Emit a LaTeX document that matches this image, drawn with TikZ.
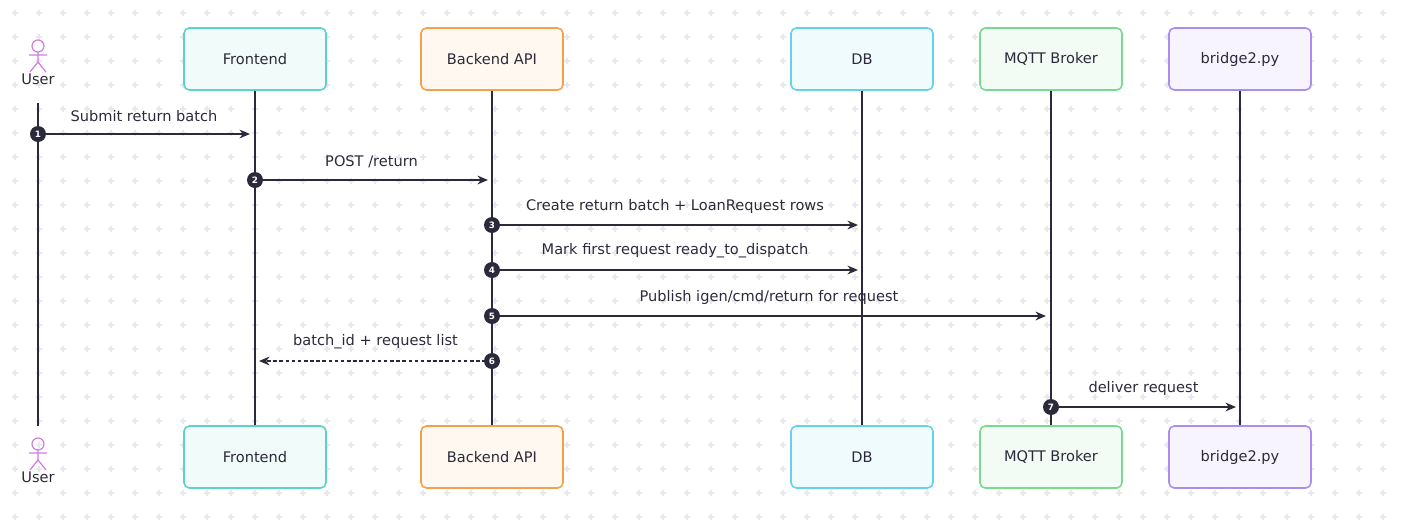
\documentclass[tikz,border=0pt]{standalone}
\usepackage{fontspec}
\setmainfont{DejaVu Sans}
\usetikzlibrary{arrows.meta}
\definecolor{ink}{HTML}{2B2A3A}
\definecolor{grid}{HTML}{E8E8EC}
\definecolor{feB}{HTML}{5CD3C8}\definecolor{feF}{HTML}{F1FBFA}
\definecolor{beB}{HTML}{F6A04D}\definecolor{beF}{HTML}{FFF8F1}
\definecolor{dbB}{HTML}{66D2EA}\definecolor{dbF}{HTML}{F0FBFE}
\definecolor{mqB}{HTML}{78DB8F}\definecolor{mqF}{HTML}{F2FCF4}
\definecolor{brB}{HTML}{A88EF0}\definecolor{brF}{HTML}{F7F4FF}
\definecolor{actor}{HTML}{D27CE4}
\tikzset{
  part/.style={draw=#1B, fill=#1F, line width=0.9pt, rounded corners=3pt,
    minimum width=2.84cm, minimum height=1.24cm, font=\fontsize{8.3}{10}\selectfont, text=ink},
  life/.style={ink, line width=0.9pt},
  msg/.style={ink, line width=0.9pt, -{Stealth[length=6pt,width=5pt]}},
  reply/.style={msg, dash pattern=on 2pt off 1.5pt},
  num/.style={circle, fill=ink, text=white, inner sep=0pt, minimum size=0.32cm,
    font=\fontsize{5}{6}\selectfont\bfseries},
  lbl/.style={font=\fontsize{8.3}{10}\selectfont, text=ink},
}
\newcommand{\actorfig}[2]{%
  \begin{scope}[shift={(#1,#2)}, actor, line width=0.7pt]
    \draw (0,-9) circle (6);
    \draw (0,-3) -- (0,7) (-9,0) -- (9,0)
          (-8,17) -- (0,7) -- (8,17);
  \end{scope}}
\begin{document}
\begin{tikzpicture}[x=0.02cm,y=-0.02cm]
  \useasboundingbox (0,0) rectangle (1401,528);
  % fondo punteado
  \foreach \gx in {15,39,...,1401}
    \foreach \gy in {13,37,...,528}
      \draw[grid, line width=0.6pt] (\gx-3,\gy) -- (\gx+3,\gy) (\gx,\gy-3) -- (\gx,\gy+3);

  % participantes arriba y abajo
  \foreach \name/\cx/\txt/\c in {fe/255/Frontend/fe, be/492/Backend API/be,
      db/862/DB/db, mq/1051/MQTT Broker/mq, br/1240/bridge2.py/br} {
    \node[part=\c] (\name top) at (\cx,59) {\txt};
    \node[part=\c] (\name bot) at (\cx,457) {\txt};
    \draw[life] (\name top) -- (\name bot);
  }
  % actor
  \actorfig{38}{55}
  \actorfig{38}{453}
  \node[lbl] (usertop) at (38,79) {User};
  \node[lbl] (userbot) at (38,477) {User};
  \coordinate (u1) at (38,103);
  \coordinate (u2) at (38,426);
  \draw[life] (u1) -- (u2);

  % mensajes
  \coordinate (m1a) at (38,134);  \coordinate (m1b) at (250,134);
  \coordinate (m2a) at (255,180); \coordinate (m2b) at (488,180);
  \coordinate (m3a) at (492,225); \coordinate (m3b) at (858,225);
  \coordinate (m4a) at (492,270); \coordinate (m4b) at (858,270);
  \coordinate (m5a) at (492,316); \coordinate (m5b) at (1046,316);
  \coordinate (m6a) at (492,361); \coordinate (m6b) at (259,361);
  \coordinate (m7a) at (1051,407); \coordinate (m7b) at (1236,407);
  \draw[msg] (m1a) -- node[lbl, above=3pt] {Submit return batch} (m1b);
  \draw[msg] (m2a) -- node[lbl, above=3pt] {POST /return} (m2b);
  \draw[msg] (m3a) -- node[lbl, above=3pt] {Create return batch + LoanRequest rows} (m3b);
  \draw[msg] (m4a) -- node[lbl, above=3pt] {Mark first request ready\_to\_dispatch} (m4b);
  \draw[msg] (m5a) -- node[lbl, above=3pt] {Publish igen/cmd/return for request} (m5b);
  \draw[reply] (m6a) -- node[lbl, above=3pt] {batch\_id + request list} (m6b);
  \draw[msg] (m7a) -- node[lbl, above=3pt] {deliver request} (m7b);
  \foreach \i in {1,...,7}
    \node[num] (n\i) at (m\i a) {\i};
\end{tikzpicture}
\end{document}
